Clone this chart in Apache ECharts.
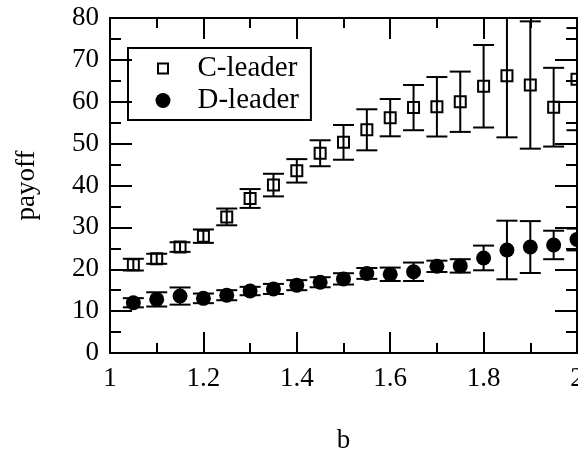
<!DOCTYPE html>
<html><head><meta charset="utf-8">
<script src="https://cdn.jsdelivr.net/npm/echarts@6/dist/echarts.min.js"></script>
<style>html,body{margin:0;padding:0;background:#fff}#c{width:578px;height:451px}</style>
</head><body><div id="c"></div>
<script>
const bValues      = [1.05,1.10,1.15,1.20,1.25,1.30,1.35,1.40,1.45,1.50,1.55,1.60,1.65,1.70,1.75,1.80,1.85,1.90,1.95,2.00];
const cLeaderMean  = [21.1,22.5,25.3,27.9,32.5,36.9,40.1,43.5,47.7,50.3,53.3,56.2,58.6,58.8,60.0,63.7,66.2,64.0,58.7,65.4];
const cLeaderErr   = [1.4, 1.2, 1.15,1.6, 2.0, 2.25,2.7, 2.8, 3.1, 4.15,4.9, 4.45,5.4, 7.1, 7.2, 9.85,14.7,15.2,9.4, 12.2];
const dLeaderMean  = [12.0,12.8,13.6,13.05,13.8,14.8,15.3,16.2,16.9,17.7,19.0,18.8,19.4,20.7,20.8,22.7,24.6,25.3,25.8,27.1];
const dLeaderErr   = [1.1, 1.7, 2.05,1.15,1.2, 1.0, 1.2, 1.2, 1.2, 1.35,1.3, 1.6, 2.2, 1.35,1.6, 2.95,7.0, 6.2, 3.4, 2.6];
const xTickLabels  = ['1','1.2','1.4','1.6','1.8','2'];
const yTickLabels  = ['0','10','20','30','40','50','60','70','80'];
const seriesNames  = ['C-leader','D-leader'];

const FONT = 'Liberation Serif';

function makeRender(kind){
  return function(params, api){
    const x = api.value(0), m = api.value(1), e = api.value(2);
    const pT = api.coord([x, m + e]), pB = api.coord([x, m - e]), pc = api.coord([x, m]);
    const cap = 10.5;
    const st = {stroke:'#000', lineWidth:2};
    const children = [
      {type:'line', shape:{x1:pT[0], y1:pT[1], x2:pB[0], y2:pB[1]}, style:st},
      {type:'line', shape:{x1:pT[0]-cap, y1:pT[1], x2:pT[0]+cap, y2:pT[1]}, style:st},
      {type:'line', shape:{x1:pB[0]-cap, y1:pB[1], x2:pB[0]+cap, y2:pB[1]}, style:st}
    ];
    if (kind === 'square') {
      children.push({type:'rect', shape:{x:pc[0]-5.5, y:pc[1]-5.5, width:11, height:11},
                     style:{stroke:'#000', lineWidth:2, fill:'none'}});
    } else {
      children.push({type:'circle', shape:{cx:pc[0], cy:pc[1], r:7.5}, style:{fill:'#000'}});
    }
    return {type:'group', children};
  };
}

const cData = bValues.map((b,i)=>[b, cLeaderMean[i], cLeaderErr[i]]);
const dData = bValues.map((b,i)=>[b, dLeaderMean[i], dLeaderErr[i]]);

const xTickMap = {}; xTickLabels.forEach(t=>{ xTickMap[(+t).toFixed(1)] = t; });

const axisCommon = {
  axisLine:{show:true, onZero:false, lineStyle:{color:'#000', width:2}},
  splitLine:{show:false},
  minorSplitLine:{show:false}
};

const chart = echarts.init(document.getElementById('c'), null, {renderer:'canvas'});
chart.setOption({
  animation:false,
  backgroundColor:'#fff',
  grid:{left:110, top:18, width:467, height:335, containLabel:false, outerBoundsMode:'none'},
  legend:{
    orient:'vertical', left:128, top:48,
    borderColor:'#000', borderWidth:2, borderRadius:0,
    padding:[6, 12, 5, 25],
    itemGap:3, itemWidth:15, itemHeight:15,
    textStyle:{fontFamily:FONT, fontSize:29, color:'#000', padding:[0,0,0,22]},
    data:[
      {name:seriesNames[0], icon:'path://M-2.5,-2.5M12.5,12.5M0,0L10,0L10,10L0,10Z',
       itemStyle:{color:'none', borderColor:'#000', borderWidth:2}},
      {name:seriesNames[1], icon:'circle', itemStyle:{color:'#000', borderWidth:0}}
    ]
  },
  xAxis:[
    Object.assign({
      type:'value', position:'bottom', min:1, max:2, interval:0.2,
      name:'b', nameLocation:'middle', nameGap:74,
      nameTextStyle:{fontFamily:FONT, fontSize:27, color:'#000'},
      axisTick:{show:true, inside:true, length:21, lineStyle:{color:'#000', width:2}},
      minorTick:{show:true, splitNumber:2, length:10, lineStyle:{color:'#000', width:2}},
      axisLabel:{show:true, fontFamily:FONT, fontSize:27, color:'#000', margin:12,
        alignMinLabel:'center', alignMaxLabel:'center',
        formatter:v=>xTickMap[v.toFixed(1)] || ''}
    }, axisCommon),
    Object.assign({
      type:'value', position:'top', min:1, max:2, interval:0.2,
      axisTick:{show:true, inside:true, length:21, lineStyle:{color:'#000', width:2}},
      minorTick:{show:true, splitNumber:2, length:10, lineStyle:{color:'#000', width:2}},
      axisLabel:{show:false}
    }, axisCommon)
  ],
  yAxis:[
    Object.assign({
      type:'value', position:'left', min:0, max:80, interval:10,
      name:'payoff', nameLocation:'middle', nameGap:70,
      nameTextStyle:{fontFamily:FONT, fontSize:27, color:'#000'},
      axisTick:{show:true, inside:true, length:22, lineStyle:{color:'#000', width:2}},
      minorTick:{show:true, splitNumber:2, length:11, lineStyle:{color:'#000', width:2}},
      axisLabel:{show:true, fontFamily:FONT, fontSize:27, color:'#000', margin:11,
        formatter:v=>yTickLabels[Math.round(v/10)] || ''}
    }, axisCommon),
    Object.assign({
      type:'value', position:'right', min:0, max:80, interval:10,
      axisTick:{show:true, inside:true, length:22, lineStyle:{color:'#000', width:2}},
      minorTick:{show:true, splitNumber:2, length:11, lineStyle:{color:'#000', width:2}},
      axisLabel:{show:false}
    }, axisCommon)
  ],
  series:[
    {name:seriesNames[0], type:'custom', xAxisIndex:0, yAxisIndex:0, clip:true,
     renderItem:makeRender('square'), encode:{x:0, y:1}, data:cData},
    {name:seriesNames[1], type:'custom', xAxisIndex:0, yAxisIndex:0, clip:true,
     renderItem:makeRender('circle'), encode:{x:0, y:1}, data:dData}
  ]
});
</script></body></html>
